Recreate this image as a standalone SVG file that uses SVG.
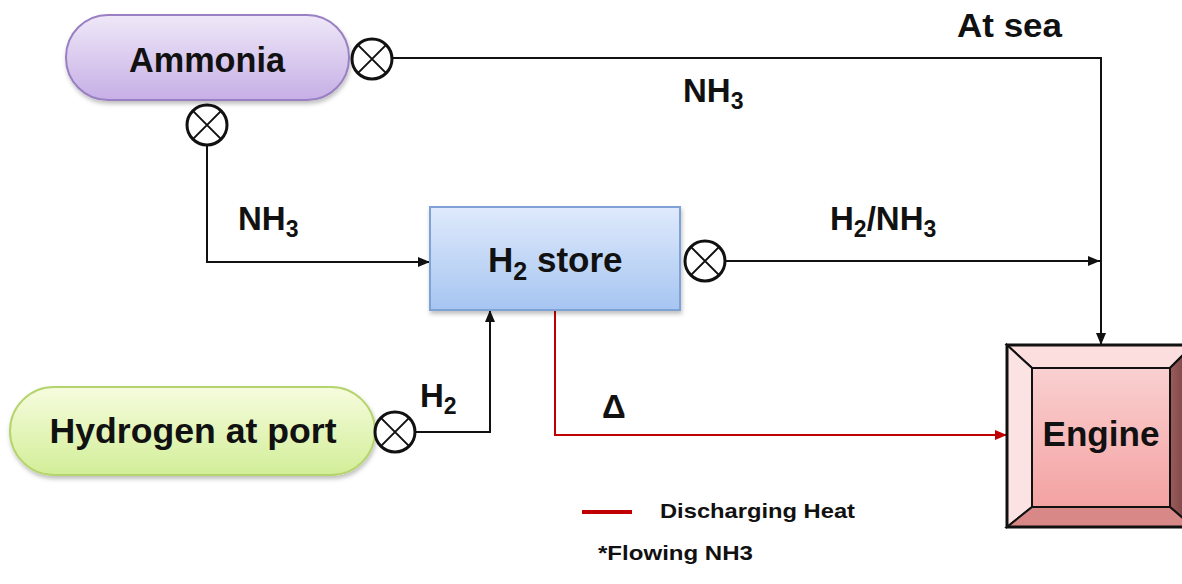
<svg xmlns="http://www.w3.org/2000/svg" width="1182" height="584" viewBox="0 0 1182 584">
<defs>
<linearGradient id="gAm" x1="0" y1="0" x2="0" y2="1"><stop offset="0" stop-color="#efe8f8"/><stop offset="1" stop-color="#c6afe6"/></linearGradient>
<linearGradient id="gH2" x1="0" y1="0" x2="0" y2="1"><stop offset="0" stop-color="#dfeafc"/><stop offset="1" stop-color="#a6c5f1"/></linearGradient>
<linearGradient id="gHy" x1="0" y1="0" x2="0" y2="1"><stop offset="0" stop-color="#f6fcde"/><stop offset="1" stop-color="#d2ee98"/></linearGradient>
<linearGradient id="gEn" x1="0" y1="0" x2="0" y2="1"><stop offset="0" stop-color="#fad0d0"/><stop offset="1" stop-color="#f4a2a2"/></linearGradient>
<linearGradient id="gR" x1="0" y1="0" x2="1" y2="0"><stop offset="0" stop-color="#9a5c5c"/><stop offset="1" stop-color="#6f3c3c"/></linearGradient>
<filter id="sh" x="-10%" y="-10%" width="120%" height="130%"><feDropShadow dx="1" dy="3" stdDeviation="2" flood-color="#000" flood-opacity="0.25"/></filter>
<marker id="ab" viewBox="0 0 12 10" refX="12" refY="5" markerWidth="12" markerHeight="10" markerUnits="userSpaceOnUse" orient="auto"><path d="M0,0 L12,5 L0,10 Z" fill="#111"/></marker>
<marker id="ar" viewBox="0 0 12 10" refX="12" refY="5" markerWidth="12" markerHeight="10" markerUnits="userSpaceOnUse" orient="auto"><path d="M0,0 L12,5 L0,10 Z" fill="#c00000"/></marker>
</defs>
<style>
.t{font-family:"Liberation Sans",Arial,sans-serif;font-weight:bold;fill:#111}
.n{font-size:35px}
.l{font-size:33px}
.s{font-size:21px}
.c{stroke:#111;stroke-width:2;fill:none}
.r{stroke:#c00000;stroke-width:2;fill:none}
.v{fill:#fff;stroke:#111;stroke-width:3}
</style>
<g id="connectors">
<path class="c" d="M392,58 H1101 V345" marker-end="url(#ab)"/>
<path class="c" d="M207,145 V262 H430" marker-end="url(#ab)"/>
<path class="c" d="M725,261 H1100" marker-end="url(#ab)"/>
<path class="c" d="M415,432 H490 V310" marker-end="url(#ab)"/>
<path class="r" d="M555,310 V435 H1007" marker-end="url(#ar)"/>
</g>
<g id="ammonia">
<rect x="66" y="15" width="283" height="85" rx="42" fill="url(#gAm)" stroke="#9a80c2" stroke-width="2" filter="url(#sh)"/>
<text class="t n" x="207" y="72" text-anchor="middle" textLength="156" lengthAdjust="spacingAndGlyphs">Ammonia</text>
</g>
<g id="valve-ammonia-right">
<circle class="v" cx="372" cy="59" r="20"/>
<path class="c" stroke-width="3" d="M357.9,44.9 L386.1,73.1 M386.1,44.9 L357.9,73.1"/>
</g>
<g id="valve-ammonia-bottom">
<circle class="v" cx="207" cy="125" r="20"/>
<path class="c" stroke-width="3" d="M192.9,110.9 L221.1,139.1 M221.1,110.9 L192.9,139.1"/>
</g>
<g id="h2store">
<rect x="430" y="207" width="250" height="103" fill="url(#gH2)" stroke="#7ea2d6" stroke-width="2" filter="url(#sh)"/>
<text class="t n" x="488" y="272">H<tspan font-size="25" dy="8">2</tspan><tspan dy="-8"> store</tspan></text>
</g>
<g id="valve-h2store">
<circle class="v" cx="705" cy="261" r="20"/>
<path class="c" stroke-width="3" d="M690.9,246.9 L719.1,275.1 M719.1,246.9 L690.9,275.1"/>
</g>
<g id="hydrogen">
<rect x="10" y="387" width="365" height="88" rx="44" fill="url(#gHy)" stroke="#b6d46e" stroke-width="2" filter="url(#sh)"/>
<text class="t n" x="193" y="443" text-anchor="middle" textLength="287" lengthAdjust="spacingAndGlyphs">Hydrogen at port</text>
</g>
<g id="valve-hydrogen">
<circle class="v" cx="395" cy="432" r="20"/>
<path class="c" stroke-width="3" d="M380.9,417.9 L409.1,446.1 M409.1,417.9 L380.9,446.1"/>
</g>
<g id="engine">
<rect x="1007" y="345" width="186" height="182" fill="url(#gEn)"/>
<polygon points="1007,345 1193,345 1170,368 1032,368" fill="#fcdede" stroke="#111" stroke-width="2"/>
<polygon points="1007,345 1032,368 1032,507 1007,527" fill="#fbe3e3" stroke="#111" stroke-width="2"/>
<polygon points="1193,345 1193,527 1170,507 1170,368" fill="url(#gR)" stroke="#111" stroke-width="2"/>
<polygon points="1007,527 1032,507 1170,507 1193,527" fill="#d98888" stroke="#111" stroke-width="2"/>
<rect x="1032" y="368" width="138" height="139" fill="url(#gEn)" stroke="#111" stroke-width="2"/>
<rect x="1007" y="345" width="186" height="182" fill="none" stroke="#111" stroke-width="3"/>
<text class="t n" x="1101" y="446" text-anchor="middle" textLength="117" lengthAdjust="spacingAndGlyphs">Engine</text>
</g>
<g id="labels">
<text class="t l" x="957" y="37" textLength="105" lengthAdjust="spacingAndGlyphs">At sea</text>
<text class="t l" x="683" y="102">NH<tspan font-size="23" dy="7">3</tspan></text>
<text class="t l" x="238" y="230">NH<tspan font-size="23" dy="7">3</tspan></text>
<text class="t l" x="830" y="230">H<tspan font-size="23" dy="7">2</tspan><tspan dy="-7">/NH</tspan><tspan font-size="23" dy="7">3</tspan></text>
<text class="t l" x="420" y="407">H<tspan font-size="23" dy="7">2</tspan></text>
<text class="t l" x="602" y="418" font-family="DejaVu Sans">Δ</text>
</g>
<g id="legend">
<line x1="582" y1="512" x2="632" y2="512" stroke="#c00000" stroke-width="4"/>
<text class="t s" x="660" y="518" textLength="195" lengthAdjust="spacingAndGlyphs">Discharging Heat</text>
<text class="t s" x="598" y="560" textLength="155" lengthAdjust="spacingAndGlyphs">*Flowing NH3</text>
</g>
</svg>
